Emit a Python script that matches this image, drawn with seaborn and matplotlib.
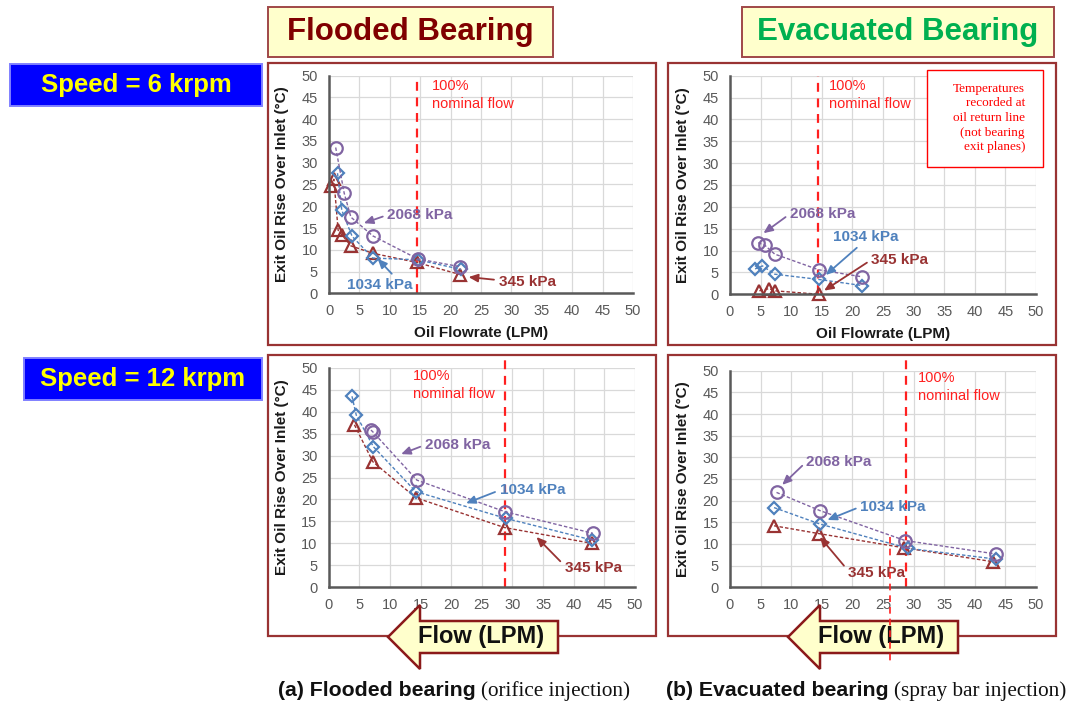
import numpy as np
import pandas as pd
import matplotlib
matplotlib.use("Agg")
import matplotlib.pyplot as plt
import seaborn as sns
from matplotlib.patches import Rectangle, Polygon
from matplotlib.lines import Line2D

# ---------------- data ----------------
pressures = ["345 kPa", "1034 kPa", "2068 kPa"]

# 6 krpm, flooded bearing
f6_345_x = [0.4, 0.8, 1.5, 2.2, 3.6, 7.2, 14.4, 21.6]
f6_345_y = [24.7, 26.2, 14.5, 13.3, 10.9, 9.2, 7.1, 4.3]
f6_1034_x = [1.4, 2.1, 3.8, 7.2, 14.6, 21.7]
f6_1034_y = [27.6, 19.1, 13.1, 8.1, 7.7, 5.5]
f6_2068_x = [1.1, 2.5, 3.6, 7.2, 14.6, 21.6]
f6_2068_y = [33.5, 23.0, 17.5, 13.2, 7.9, 6.1]

# 6 krpm, evacuated bearing
e6_345_x = [4.8, 6.4, 7.3, 14.6]
e6_345_y = [0.8, 1.3, 0.8, 0.0]
e6_1034_x = [4.1, 5.3, 7.3, 14.5, 21.6]
e6_1034_y = [5.8, 6.5, 4.6, 3.4, 2.0]
e6_2068_x = [4.6, 5.7, 7.3, 14.5, 21.6]
e6_2068_y = [11.8, 11.2, 9.2, 5.6, 4.0]

# 12 krpm, flooded bearing
f12_345_x = [4.2, 7.2, 14.2, 28.7, 43.0]
f12_345_y = [37.0, 28.6, 20.4, 13.6, 10.0]
f12_1034_x = [3.8, 4.5, 7.3, 14.2, 28.9, 42.9]
f12_1034_y = [43.5, 39.2, 32.0, 21.8, 15.7, 10.8]
f12_2068_x = [6.9, 7.2, 14.4, 28.8, 43.1]
f12_2068_y = [35.8, 35.4, 24.4, 17.2, 12.3]

# 12 krpm, evacuated bearing
e12_345_x = [7.2, 14.5, 28.5, 43.0]
e12_345_y = [14.2, 12.4, 9.1, 5.9]
e12_1034_x = [7.2, 14.7, 29.1, 43.5]
e12_1034_y = [18.4, 14.6, 9.0, 6.5]
e12_2068_x = [7.6, 14.7, 28.6, 43.4]
e12_2068_y = [21.9, 17.7, 10.8, 7.7]

nominal_flow = [14.4, 14.4, 28.8, 28.7]   # TL, TR, BL, BR
x_ticks = [0, 5, 10, 15, 20, 25, 30, 35, 40, 45, 50]
y_ticks = [0, 5, 10, 15, 20, 25, 30, 35, 40, 45, 50]

# ---------------- style ----------------
sns.set_theme(style="whitegrid")
plt.rcParams["font.family"] = ["Liberation Sans", "DejaVu Sans"]

PURPLE = "#8064A2"
BLUE = "#4F81BD"
DRED = "#993333"
FRAME = "#993333"
colors = {"345 kPa": DRED, "1034 kPa": BLUE, "2068 kPa": PURPLE}
markers = {"345 kPa": ("^", 9), "1034 kPa": ("D", 6.5), "2068 kPa": ("o", 9)}

W, H = 1069, 706
fig = plt.figure(figsize=(W / 100, H / 100), dpi=100, facecolor="white")


def fx(px):
    return px / W


def fy(py):
    return 1 - py / H


def axes_from_px(left, right, top, bottom):
    return fig.add_axes([fx(left), fy(bottom), (right - left) / W, (bottom - top) / H])


panels = [
    dict(rect=(329, 633, 75.7, 293.3),
         series={"345 kPa": (f6_345_x, f6_345_y), "1034 kPa": (f6_1034_x, f6_1034_y),
                 "2068 kPa": (f6_2068_x, f6_2068_y)},
         nom_ymax=1.0, nom_text=(17.0, 49.3),
         ann={"2068 kPa": ((9.6, 18.0), (5.3, 15.9), (0, 0.5)),
              "1034 kPa": ((2.9, 1.9), (7.7, 8.4), (0.75, 1.0)),
              "345 kPa": ((27.9, 2.7), (22.5, 3.8), (0, 0.6))}),
    dict(rect=(730, 1036, 75.7, 294.3),
         series={"345 kPa": (e6_345_x, e6_345_y), "1034 kPa": (e6_1034_x, e6_1034_y),
                 "2068 kPa": (e6_2068_x, e6_2068_y)},
         nom_ymax=1.0, nom_text=(16.2, 49.3),
         ann={"2068 kPa": ((9.8, 18.4), (5.1, 13.6), (0, 0.5)),
              "1034 kPa": ((16.9, 13.2), (15.3, 4.0), (0.43, 0.0)),
              "345 kPa": ((23.1, 7.9), (15.0, 0.5), (0, 0.5))}),
    dict(rect=(328.7, 635, 367.7, 587.3),
         series={"345 kPa": (f12_345_x, f12_345_y), "1034 kPa": (f12_1034_x, f12_1034_y),
                 "2068 kPa": (f12_2068_x, f12_2068_y)},
         nom_ymax=1.06, nom_text=(13.8, 49.6),
         ann={"2068 kPa": ((15.7, 32.4), (11.4, 30.1), (0, 0.5)),
              "1034 kPa": ((27.9, 22.1), (22.0, 18.9), (0, 0.5)),
              "345 kPa": ((38.5, 4.3), (33.6, 11.9), (0, 0.7))}),
    dict(rect=(730, 1036, 370.7, 587.3),
         series={"345 kPa": (e12_345_x, e12_345_y), "1034 kPa": (e12_1034_x, e12_1034_y),
                 "2068 kPa": (e12_2068_x, e12_2068_y)},
         nom_ymax=1.07, nom_text=(30.7, 50.0),
         ann={"2068 kPa": ((12.5, 29.0), (8.2, 23.2), (0, 0.5)),
              "1034 kPa": ((21.3, 18.6), (15.5, 15.3), (0, 0.5)),
              "345 kPa": ((19.3, 3.2), (14.4, 12.1), (0, 0.7))}),
]

axes = []
for i, p in enumerate(panels):
    ax = axes_from_px(*p["rect"])
    axes.append(ax)
    ax.set_facecolor("white")
    for name in pressures:
        xs, ys = p["series"][name]
        df = pd.DataFrame({"flow": xs, "rise": ys})
        m, ms = markers[name]
        sns.lineplot(data=df, x="flow", y="rise", ax=ax, sort=False, estimator=None,
                     color=colors[name], linestyle=(0, (2.5, 1.5)), linewidth=1.0,
                     marker=m, markersize=ms, markerfacecolor="none",
                     markeredgecolor=colors[name], markeredgewidth=1.6, zorder=3,
                     clip_on=False)
    ax.set_xlim(0, 50)
    ax.set_ylim(0, 50)
    ax.set_xticks(x_ticks)
    ax.set_yticks(y_ticks)
    ax.grid(True, color="#D9D9D9", linewidth=0.9)
    ax.tick_params(axis="both", length=0, labelsize=10.5, labelcolor="#595959", pad=8)
    for s in ["top", "right"]:
        ax.spines[s].set_visible(False)
    for s in ["left", "bottom"]:
        ax.spines[s].set_color("#595959")
        ax.spines[s].set_linewidth(1.8)
        ax.spines[s].set_zorder(4)
    ax.set_ylabel("Exit Oil Rise Over Inlet (°C)", fontsize=11, fontweight="bold",
                  color="#1a1a1a")
    ax.yaxis.set_label_coords(-0.13, 0.5)
    ax.set_xlabel("Oil Flowrate (LPM)", fontsize=11, fontweight="bold", color="#1a1a1a")
    ax.xaxis.set_label_coords(0.5, -0.15)

    # nominal flow line
    ax.axvline(nominal_flow[i], ymin=0, ymax=p["nom_ymax"], color="#FF2020",
               linestyle=(0, (4, 3)), linewidth=1.6, clip_on=False, zorder=2)
    ax.text(p["nom_text"][0], p["nom_text"][1], "100%\nnominal flow", color="#FF2020",
            fontsize=10.5, ha="left", va="top", linespacing=1.35)

    # pressure labels with arrows
    for name, (tpos, tip, rel) in p["ann"].items():
        ax.annotate(name, xy=tip, xytext=tpos, color=colors[name], fontsize=11,
                    fontweight="bold", ha="left", va="center",
                    arrowprops=dict(arrowstyle="-|>,head_length=0.5,head_width=0.22",
                                    color=colors[name], lw=1.3, relpos=rel,
                                    shrinkA=1, shrinkB=2),
                    annotation_clip=False, zorder=5)

# ---------------- frames ----------------
for (l, t, r, b) in [(268, 63, 656, 345), (668, 63, 1056, 345),
                     (268, 355, 656, 636), (668, 355, 1056, 636)]:
    fig.patches.append(Rectangle((fx(l), fy(b)), (r - l) / W, (b - t) / H, fill=False,
                                 edgecolor=FRAME, linewidth=1.6, transform=fig.transFigure,
                                 figure=fig, zorder=1))

# ---------------- header boxes ----------------
def header(l, t, r, b, text, fc, ec, fs, tcolor):
    fig.patches.append(Rectangle((fx(l), fy(b)), (r - l) / W, (b - t) / H, facecolor=fc,
                                 edgecolor=ec, linewidth=1.4, transform=fig.transFigure,
                                 figure=fig, zorder=1))
    fig.text(fx((l + r) / 2), fy((t + b) / 2), text, color=tcolor, fontsize=fs,
             fontweight="bold", ha="center", va="center", zorder=3)


header(268, 7, 553, 57, "Flooded Bearing", "#FFFFCC", "#A04848", 22.5, "#800000")
header(742, 7, 1054, 57, "Evacuated Bearing", "#FFFFCC", "#A04848", 22.5, "#00B050")
header(10, 64, 262, 106, "Speed = 6 krpm", "#0000FF", "#8080FF", 18.5, "#FFFF00")
header(24, 358, 262, 400, "Speed = 12 krpm", "#0000FF", "#8080FF", 18.5, "#FFFF00")

# note box in top-right panel
fig.patches.append(Rectangle((fx(927), fy(167)), (1043 - 927) / W, (167 - 70) / H,
                             facecolor="white", edgecolor="#FF0000", linewidth=1.0,
                             transform=fig.transFigure, figure=fig, zorder=2))
fig.text(fx(1025), fy(118), "Temperatures\nrecorded at\noil return line\n(not bearing\nexit planes)",
         family=["Liberation Serif", "DejaVu Serif"], color="#FF0000", fontsize=9.5,
         ha="right", va="center", linespacing=1.3, zorder=3)

# ---------------- flow arrows ----------------
for dx in (0, 400):
    pts = [(388 + dx, 637), (420 + dx, 605), (420 + dx, 621), (558 + dx, 621),
           (558 + dx, 653), (420 + dx, 653), (420 + dx, 669)]
    fig.patches.append(Polygon([(fx(x), fy(y)) for x, y in pts], closed=True,
                               facecolor="#FFFFCC", edgecolor="#8B1A1A", linewidth=1.8,
                               transform=fig.transFigure, figure=fig, zorder=2))
    fig.text(fx(481 + dx), fy(637), "Flow (LPM)", fontsize=17, fontweight="bold",
             color="#111111", ha="center", va="center", zorder=3)

# stray dashed line in bottom-right panel (drawn above the arrow)
fig.add_artist(Line2D([26.1, 26.1], [11.7, -17.5], transform=axes[3].transData,
                      color="#FF2020", linestyle=(0, (4, 3)), linewidth=1.2, zorder=6))

# ---------------- captions ----------------
fig.canvas.draw()
renderer = fig.canvas.get_renderer()
for xpos, bold, serif in [(278, "(a) Flooded bearing", "(orifice injection)"),
                          (666, "(b) Evacuated bearing", "(spray bar injection)")]:
    t1 = fig.text(fx(xpos), fy(691), bold, fontsize=15.3, fontweight="bold",
                  color="#111111", ha="left", va="center")
    bb = t1.get_window_extent(renderer)
    fig.text(fx(bb.x1 + 5), fy(691), serif, fontsize=15.3,
             family=["Liberation Serif", "DejaVu Serif"], color="#111111",
             ha="left", va="center")

fig.savefig("out.png", dpi=100, facecolor="white")
